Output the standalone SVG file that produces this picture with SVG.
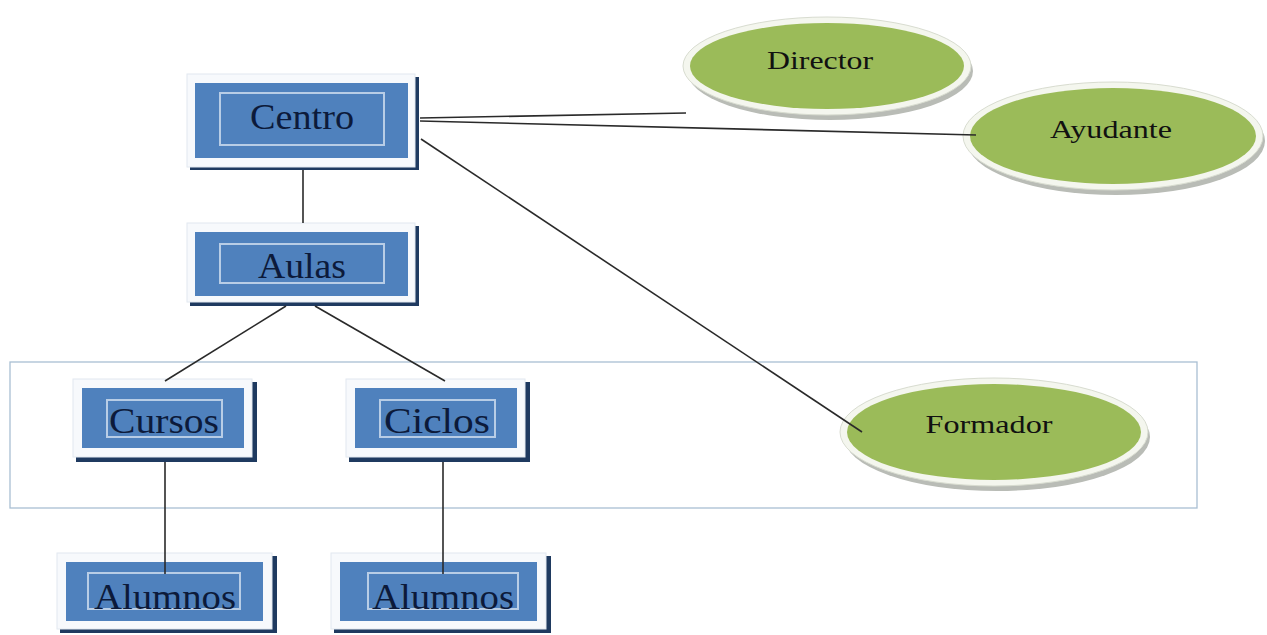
<svg xmlns="http://www.w3.org/2000/svg" width="1267" height="635" viewBox="0 0 1267 635">
<defs>
<style>
.frame{fill:#f7f9fc;stroke:#e2e8f0;stroke-width:1}
.shadow{fill:#1f3a60}
.blue{fill:#4f81bd}
.inner{fill:none;stroke:#b8cde6;stroke-width:2}
.btxt{font-family:"Liberation Serif",serif;font-size:35px;fill:#0c1a3a;text-anchor:middle}
.erim{fill:#f4f6ee;stroke:#d8dcd0;stroke-width:1}
.eshadow{fill:#b9bcb6}
.egreen{fill:#9bbb59}
.etxt{font-family:"Liberation Serif",serif;font-size:26px;fill:#111;text-anchor:middle}
.conn line{stroke:#2a2a2a;stroke-width:1.6}
</style>
</defs>
<rect width="1267" height="635" fill="#ffffff"/>
<rect id="group-box" x="10" y="362" width="1187" height="146" fill="none" stroke="#a9bfd3" stroke-width="1.3"/>
<g id="centro">
<rect class="shadow" x="190" y="77" width="229" height="93"/>
<rect class="frame" x="187" y="74" width="228" height="93"/>
<rect class="blue" x="195" y="83" width="213" height="75"/>
<rect class="inner" x="220" y="93" width="164" height="52"/>
<text class="btxt" x="302" y="129" textLength="104" lengthAdjust="spacingAndGlyphs">Centro</text>
</g>
<g id="aulas">
<rect class="shadow" x="190" y="226" width="229" height="80"/>
<rect class="frame" x="187" y="223" width="228" height="79"/>
<rect class="blue" x="195" y="232" width="213" height="64"/>
<rect class="inner" x="220" y="244" width="164" height="39"/>
<text class="btxt" x="302" y="278" textLength="88" lengthAdjust="spacingAndGlyphs">Aulas</text>
</g>
<g id="cursos">
<rect class="shadow" x="76" y="382" width="181" height="80"/>
<rect class="frame" x="73" y="379" width="179" height="78"/>
<rect class="blue" x="82" y="388" width="162" height="60"/>
<rect class="inner" x="107" y="400" width="115" height="37"/>
<text class="btxt" x="164" y="433" textLength="110" lengthAdjust="spacingAndGlyphs">Cursos</text>
</g>
<g id="ciclos">
<rect class="shadow" x="349" y="382" width="181" height="80"/>
<rect class="frame" x="346" y="379" width="179" height="78"/>
<rect class="blue" x="355" y="388" width="162" height="60"/>
<rect class="inner" x="380" y="400" width="115" height="37"/>
<text class="btxt" x="437" y="433" textLength="106" lengthAdjust="spacingAndGlyphs">Ciclos</text>
</g>
<g id="alumnos1">
<rect class="shadow" x="60" y="556" width="217" height="77"/>
<rect class="frame" x="57" y="553" width="215" height="76"/>
<rect class="blue" x="66" y="562" width="197" height="59"/>
<rect class="inner" x="88" y="573" width="152" height="36"/>
<text class="btxt" x="165" y="609" textLength="142" lengthAdjust="spacingAndGlyphs">Alumnos</text>
</g>
<g id="alumnos2">
<rect class="shadow" x="334" y="556" width="217" height="77"/>
<rect class="frame" x="331" y="553" width="215" height="76"/>
<rect class="blue" x="340" y="562" width="197" height="59"/>
<rect class="inner" x="368" y="573" width="150" height="36"/>
<text class="btxt" x="443" y="609" textLength="142" lengthAdjust="spacingAndGlyphs">Alumnos</text>
</g>
<g id="director">
<ellipse class="eshadow" cx="830" cy="71" rx="143" ry="49"/>
<ellipse class="erim" cx="827" cy="66" rx="144" ry="49"/>
<ellipse class="egreen" cx="827" cy="66" rx="137" ry="43"/>
<text class="etxt" x="820" y="69" textLength="106" lengthAdjust="spacingAndGlyphs">Director</text>
</g>
<g id="ayudante">
<ellipse class="eshadow" cx="1116" cy="141" rx="149" ry="54"/>
<ellipse class="erim" cx="1113" cy="136" rx="150" ry="54"/>
<ellipse class="egreen" cx="1113" cy="136" rx="143" ry="48"/>
<text class="etxt" x="1111" y="138" textLength="122" lengthAdjust="spacingAndGlyphs">Ayudante</text>
</g>
<g id="formador">
<ellipse class="eshadow" cx="997" cy="437" rx="153" ry="54"/>
<ellipse class="erim" cx="994" cy="432" rx="154" ry="54"/>
<ellipse class="egreen" cx="994" cy="432" rx="147" ry="48"/>
<text class="etxt" x="989" y="433" textLength="127" lengthAdjust="spacingAndGlyphs">Formador</text>
</g>
<g class="conn" id="connectors">
<line x1="420" y1="118" x2="686" y2="113"/>
<line x1="420" y1="121" x2="976" y2="135"/>
<line x1="421" y1="139" x2="862" y2="432"/>
<line x1="303" y1="170" x2="303" y2="223"/>
<line x1="286" y1="306" x2="165" y2="381"/>
<line x1="315" y1="306" x2="445" y2="381"/>
<line x1="165" y1="462" x2="165" y2="574"/>
<line x1="443" y1="462" x2="443" y2="574"/>
</g>
</svg>
